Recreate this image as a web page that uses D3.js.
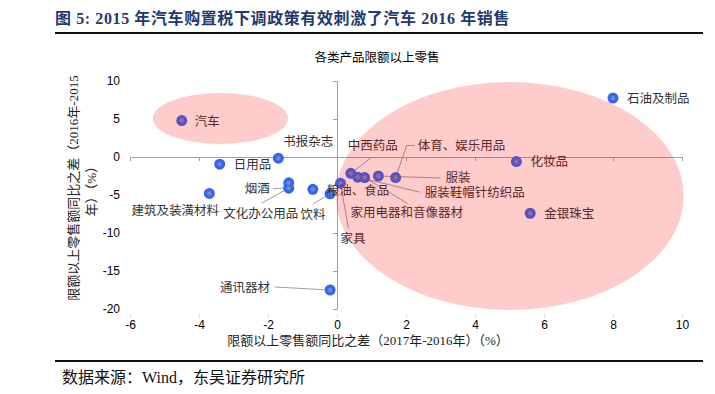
<!DOCTYPE html>
<html>
<head>
<meta charset="utf-8">
<script src="https://cdn.jsdelivr.net/npm/d3@7"></script>
<style>
  body { margin: 0; background: #fff; }
  svg { display: block; }
  .serif { font-family: "Liberation Serif", "DejaVu Serif", "Noto Sans CJK SC", serif; }
  .sans { font-family: "Liberation Sans", Arial, "Noto Sans CJK SC", sans-serif; }
</style>
</head>
<body>
<div id="graf"></div>
<script>
// datos
const nombres = ['汽车', '石油及制品', '书报杂志', '日用品', '建筑及装潢材料', '烟酒', '文化办公用品',
  '粮油、食品', '饮料', '家具', '中西药品', '服装鞋帽针纺织品', '家用电器和音像器材', '服装',
  '体育、娱乐用品', '化妆品', '金银珠宝', '通讯器材']
const difX = [-4.5, 8.0, -1.7, -3.4, -3.7, -1.4, -1.4, -0.7, -0.2, 0.1, 0.4, 0.6, 0.8, 1.2, 1.7, 5.2, 5.6, -0.2]
const difY = [4.8, 7.75, -0.15, -0.95, -4.8, -3.4, -4.1, -4.25, -4.85, -3.45, -2.15, -2.65, -2.7, -2.5, -2.7, -0.6, -7.4, -17.5]
const ticksX = [-6, -4, -2, 0, 2, 4, 6, 8, 10]
const ticksY = [10, 5, 0, -5, -10, -15, -20]

const ancho = 715
const alto = 394

const svg = d3.select('#graf')
  .append('svg')
  .attr('width', ancho)
  .attr('height', alto)

const x = d3.scaleLinear().domain([-6, 10]).range([130, 682])
const y = d3.scaleLinear().domain([-20, 10]).range([309, 81])

// titulo de la figura
svg.append('text')
  .attr('class', 'serif')
  .attr('x', 55).attr('y', 24)
  .attr('font-size', 16).attr('font-weight', 'bold')
  .attr('letter-spacing', 0.6)
  .attr('fill', '#1f3a6b')
  .text('图 5:  2015 年汽车购置税下调政策有效刺激了汽车 2016 年销售')
svg.append('line')
  .attr('x1', 55).attr('x2', 703).attr('y1', 33).attr('y2', 33)
  .attr('stroke', '#111').attr('stroke-width', 2)

svg.append('text')
  .attr('class', 'sans')
  .attr('x', 377).attr('y', 62)
  .attr('text-anchor', 'middle')
  .attr('font-size', 12.5).attr('fill', '#000')
  .text('各类产品限额以上零售')

// ejes en el cero
svg.append('g')
  .attr('transform', `translate(${x(0)},0)`)
  .call(d3.axisLeft(y).tickValues(ticksY).tickSize(4).tickSizeOuter(4).tickFormat(''))
svg.append('g')
  .attr('transform', `translate(0,${y(0)})`)
  .call(d3.axisBottom(x).tickValues(ticksX).tickSize(4).tickSizeOuter(4).tickFormat(''))
svg.selectAll('g path.domain, g .tick line').attr('stroke', '#a0a0a0')

// etiquetas de ticks
const labY = svg.append('g')
  .attr('class', 'sans')
  .attr('transform', 'translate(124,0)')
  .call(d3.axisLeft(y).tickValues(ticksY).tickSize(0).tickPadding(4).tickFormat(d => String(d)))
labY.select('.domain').remove()
labY.selectAll('text').attr('font-size', 12).attr('fill', '#000').attr('font-family', null)

const labX = svg.append('g')
  .attr('class', 'sans')
  .attr('transform', 'translate(0,314)')
  .call(d3.axisBottom(x).tickValues(ticksX).tickSize(5).tickPadding(1).tickFormat(d => String(d)))
labX.select('.domain').remove()
labX.selectAll('line').attr('stroke', '#e4e4e4')
labX.selectAll('text').attr('font-size', 12).attr('fill', '#000').attr('font-family', null)

// titulos de ejes
svg.append('text')
  .attr('class', 'serif')
  .attr('x', 368).attr('y', 345)
  .attr('text-anchor', 'middle')
  .attr('font-size', 13).attr('fill', '#222')
  .text('限额以上零售额同比之差（2017年-2016年）（%）')
const tituloY = svg.append('text')
  .attr('class', 'serif')
  .attr('transform', 'translate(78,188) rotate(-90)')
  .attr('text-anchor', 'middle')
  .attr('font-size', 13).attr('fill', '#222')
tituloY.append('tspan').attr('x', 0).attr('dy', 0).text('限额以上零售额同比之差（2016年-2015')
tituloY.append('tspan').attr('x', 0).attr('dy', 18).text('年）（%）')

// ubicacion de las etiquetas (px relativos al punto)
const etiq = {
  '汽车': { dx: 13, dy: 1, a: 'start' },
  '石油及制品': { dx: 14, dy: 1, a: 'start' },
  '书报杂志': { dx: 5, dy: -17, a: 'start' },
  '日用品': { dx: 14, dy: 0, a: 'start' },
  '建筑及装潢材料': { dx: -34, dy: 17, a: 'middle' },
  '烟酒': { dx: -19, dy: 6, a: 'end', l: [[-16, 6], [-3, 5]] },
  '文化办公用品': { dx: -28, dy: 25, a: 'middle', l: [[-27, 15]] },
  '粮油、食品': { dx: 14, dy: 1, a: 'start' },
  '饮料': { dx: -17, dy: 21, a: 'middle', l: [[-17, 10]] },
  '家具': { dx: 0, dy: 55, a: 'start', l: [[8, 45]] },
  '中西药品': { dx: 22, dy: -28, a: 'middle', l: [[21, -16]] },
  '服装鞋帽针纺织品': { dx: 67, dy: 15, a: 'start', l: [[62, 15]] },
  '家用电器和音像器材': { dx: -14, dy: 35, a: 'start', l: [[43, 26]] },
  '服装': { dx: 67, dy: 2, a: 'start', l: [[62, 2]] },
  '体育、娱乐用品': { dx: 22, dy: -32, a: 'start', l: [[19, -32], [11, -32]] },
  '化妆品': { dx: 14, dy: 0, a: 'start' },
  '金银珠宝': { dx: 14, dy: 0, a: 'start' },
  '通讯器材': { dx: -60, dy: -2, a: 'end', l: [[-55, -3]] },
}

const puntos = nombres.map((n, i) => ({ nombre: n, vx: difX[i], vy: difY[i] }))

// lineas guia
svg.append('g').selectAll('path')
  .data(puntos.filter(d => etiq[d.nombre].l))
  .enter()
  .append('path')
  .attr('d', d => {
    const px = x(d.vx), py = y(d.vy)
    const pts = etiq[d.nombre].l.map(p => [px + p[0], py + p[1]])
    pts.push([px, py])
    return d3.line()(pts)
  })
  .attr('fill', 'none')
  .attr('stroke', '#a0a0a0')
  .attr('stroke-width', 1)

// puntos
const gp = svg.append('g')
gp.selectAll('circle.borde')
  .data(puntos)
  .enter()
  .append('circle')
  .attr('class', 'borde')
  .attr('cx', d => x(d.vx))
  .attr('cy', d => y(d.vy))
  .attr('r', 5.5)
  .attr('fill', '#3366f5')
gp.selectAll('circle.centro')
  .data(puntos)
  .enter()
  .append('circle')
  .attr('class', 'centro')
  .attr('cx', d => x(d.vx))
  .attr('cy', d => y(d.vy))
  .attr('r', 2.2)
  .attr('fill', '#6f8fb8')

// textos
svg.append('g').selectAll('text')
  .data(puntos)
  .enter()
  .append('text')
  .attr('class', 'serif')
  .attr('x', d => x(d.vx) + etiq[d.nombre].dx)
  .attr('y', d => y(d.vy) + etiq[d.nombre].dy)
  .attr('dy', '0.35em')
  .attr('text-anchor', d => etiq[d.nombre].a)
  .attr('font-size', 12.5)
  .attr('fill', '#333')
  .text(d => d.nombre)

// elipses (encima, semitransparentes)
const elipses = [
  { cx: -3.38, cy: 5.07, rx: 1.96, ry: 3.36 },
  { cx: 5.01, cy: -5.13, rx: 5.04, ry: 15.0 },
]
svg.append('g').selectAll('ellipse')
  .data(elipses)
  .enter()
  .append('ellipse')
  .attr('cx', d => x(d.cx))
  .attr('cy', d => y(d.cy))
  .attr('rx', d => x(d.rx) - x(0))
  .attr('ry', d => y(0) - y(d.ry))
  .attr('fill', 'rgba(255,0,0,0.2)')

// fuente
svg.append('line')
  .attr('x1', 55).attr('x2', 703).attr('y1', 361).attr('y2', 361)
  .attr('stroke', '#111').attr('stroke-width', 2)
svg.append('text')
  .attr('class', 'serif')
  .attr('x', 62).attr('y', 383)
  .attr('font-size', 16).attr('fill', '#111')
  .text('数据来源：Wind，东吴证券研究所')
</script>
</body>
</html>
